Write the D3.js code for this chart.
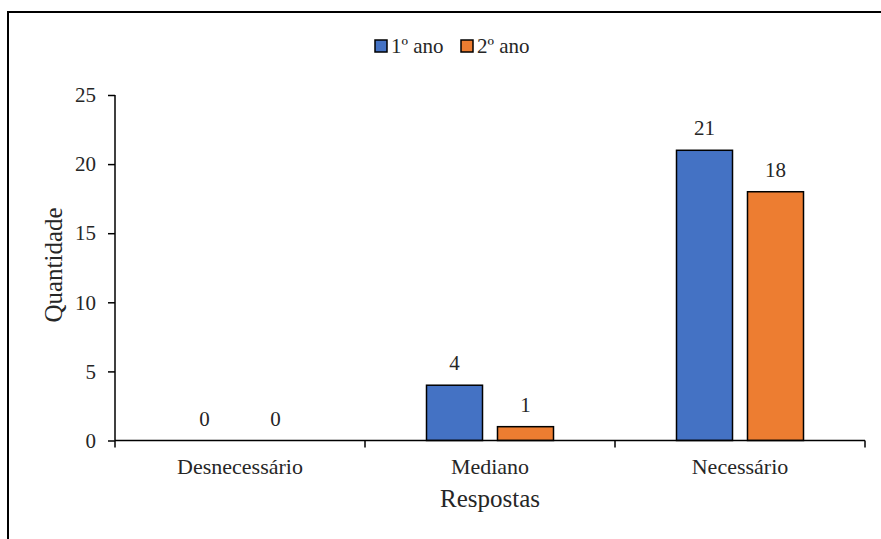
<!DOCTYPE html>
<html><head><meta charset="utf-8">
<script src="https://cdn.jsdelivr.net/npm/d3@7"></script>
</head><body style="margin:0"><svg id="c" width="881" height="539"></svg>
<script>
const categories = ["Desnecessário", "Mediano", "Necessário"];
const seriesNames = ["1º ano", "2º ano"];
const ano1 = [0, 4, 21];
const ano2 = [0, 1, 18];
const colors = ["#4472C4", "#ED7D31"];
const yTicks = [0, 5, 10, 15, 20, 25];

(function () {
const FF = "'Liberation Serif', 'Times New Roman', Tinos, serif";
const TC = "#262626";
const svg = d3.select("#c");
const fs = 21;
svg.append("rect").attr("x", 8).attr("y", 12).attr("width", 900).attr("height", 600)
  .attr("fill", "none").attr("stroke", "#000").attr("stroke-width", 2);

const pL = 115, pR = 865, pT = 95, pB = 440.5;
const x0 = d3.scaleBand().domain(categories).range([pL, pR]).padding(0);
const x1 = d3.scaleBand().domain([0, 1]).range([61.5, 188.5]).paddingInner(0.211);
const y = d3.scaleLinear().domain([0, 25]).range([pB, pT]);

const g = svg.append("g");
const yAxis = d3.axisLeft(y).tickValues(yTicks).tickSize(7).tickPadding(12);
const ya = g.append("g").attr("transform", `translate(${pL},0)`).call(yAxis);
ya.attr("font-family", FF).attr("font-size", fs);
ya.select(".domain").attr("stroke", "#000").attr("stroke-width", 1.5).attr("d", `M0,${pT}V${pB}`);
ya.selectAll(".tick line").attr("stroke", "#000").attr("stroke-width", 1.5);
ya.selectAll(".tick text").style("font-family", FF).attr("font-size", fs).attr("fill", TC);

const data = categories.map((c, i) => ({c, v: [ano1[i], ano2[i]]}));
const grp = g.selectAll(".grp").data(data).join("g").attr("class", "grp").attr("transform", d => `translate(${x0(d.c)},0)`);
grp.selectAll("rect").data(d => d.v.map((v, k) => ({v, k}))).join("rect")
  .attr("x", d => x1(d.k)).attr("width", x1.bandwidth())
  .attr("y", d => y(d.v)).attr("height", d => pB - y(d.v))
  .attr("fill", d => colors[d.k]).attr("stroke", d => d.v > 0 ? "#000" : "none").attr("stroke-width", 1.5);
grp.selectAll("text.lbl").data(d => d.v.map((v, k) => ({v, k}))).join("text").attr("class", "lbl")
  .attr("x", d => x1(d.k) + x1.bandwidth() / 2).attr("y", d => y(d.v) - 15)
  .attr("text-anchor", "middle").style("font-family", FF).attr("font-size", fs).attr("fill", TC).text(d => d.v);

const xa = g.append("g").attr("transform", `translate(0,${pB})`);
xa.append("path").attr("d", `M${pL},0H${pR}`).attr("stroke", "#000").attr("stroke-width", 1.5);
const bounds = [pL].concat(categories.map(c => x0(c) + x0.bandwidth()));
xa.selectAll("line.t").data(bounds).join("line").attr("class", "t")
  .attr("x1", d => d).attr("x2", d => d).attr("y1", 0).attr("y2", 7).attr("stroke", "#000").attr("stroke-width", 1.5);
xa.selectAll("text.cat").data(categories).join("text").attr("class", "cat")
  .attr("x", d => x0(d) + x0.bandwidth() / 2).attr("y", 33).attr("text-anchor", "middle")
  .style("font-family", FF).attr("font-size", 22).attr("fill", TC).text(d => d);

svg.append("text").attr("x", 490).attr("y", 507).attr("text-anchor", "middle")
  .style("font-family", FF).attr("font-size", 25).attr("fill", TC).text("Respostas");
svg.append("text").attr("transform", "translate(62,265) rotate(-90)").attr("text-anchor", "middle")
  .style("font-family", FF).attr("font-size", 25).attr("fill", TC).text("Quantidade");

const lg = svg.append("g");
const lx = [375, 461];
seriesNames.forEach((s, i) => {
  lg.append("rect").attr("x", lx[i]).attr("y", 40).attr("width", 12).attr("height", 12)
    .attr("fill", colors[i]).attr("stroke", "#000").attr("stroke-width", 1.5);
  lg.append("text").attr("x", lx[i] + 16).attr("y", 53).style("font-family", FF).attr("font-size", fs).attr("fill", TC).text(s);
});
})();
</script></body></html>
